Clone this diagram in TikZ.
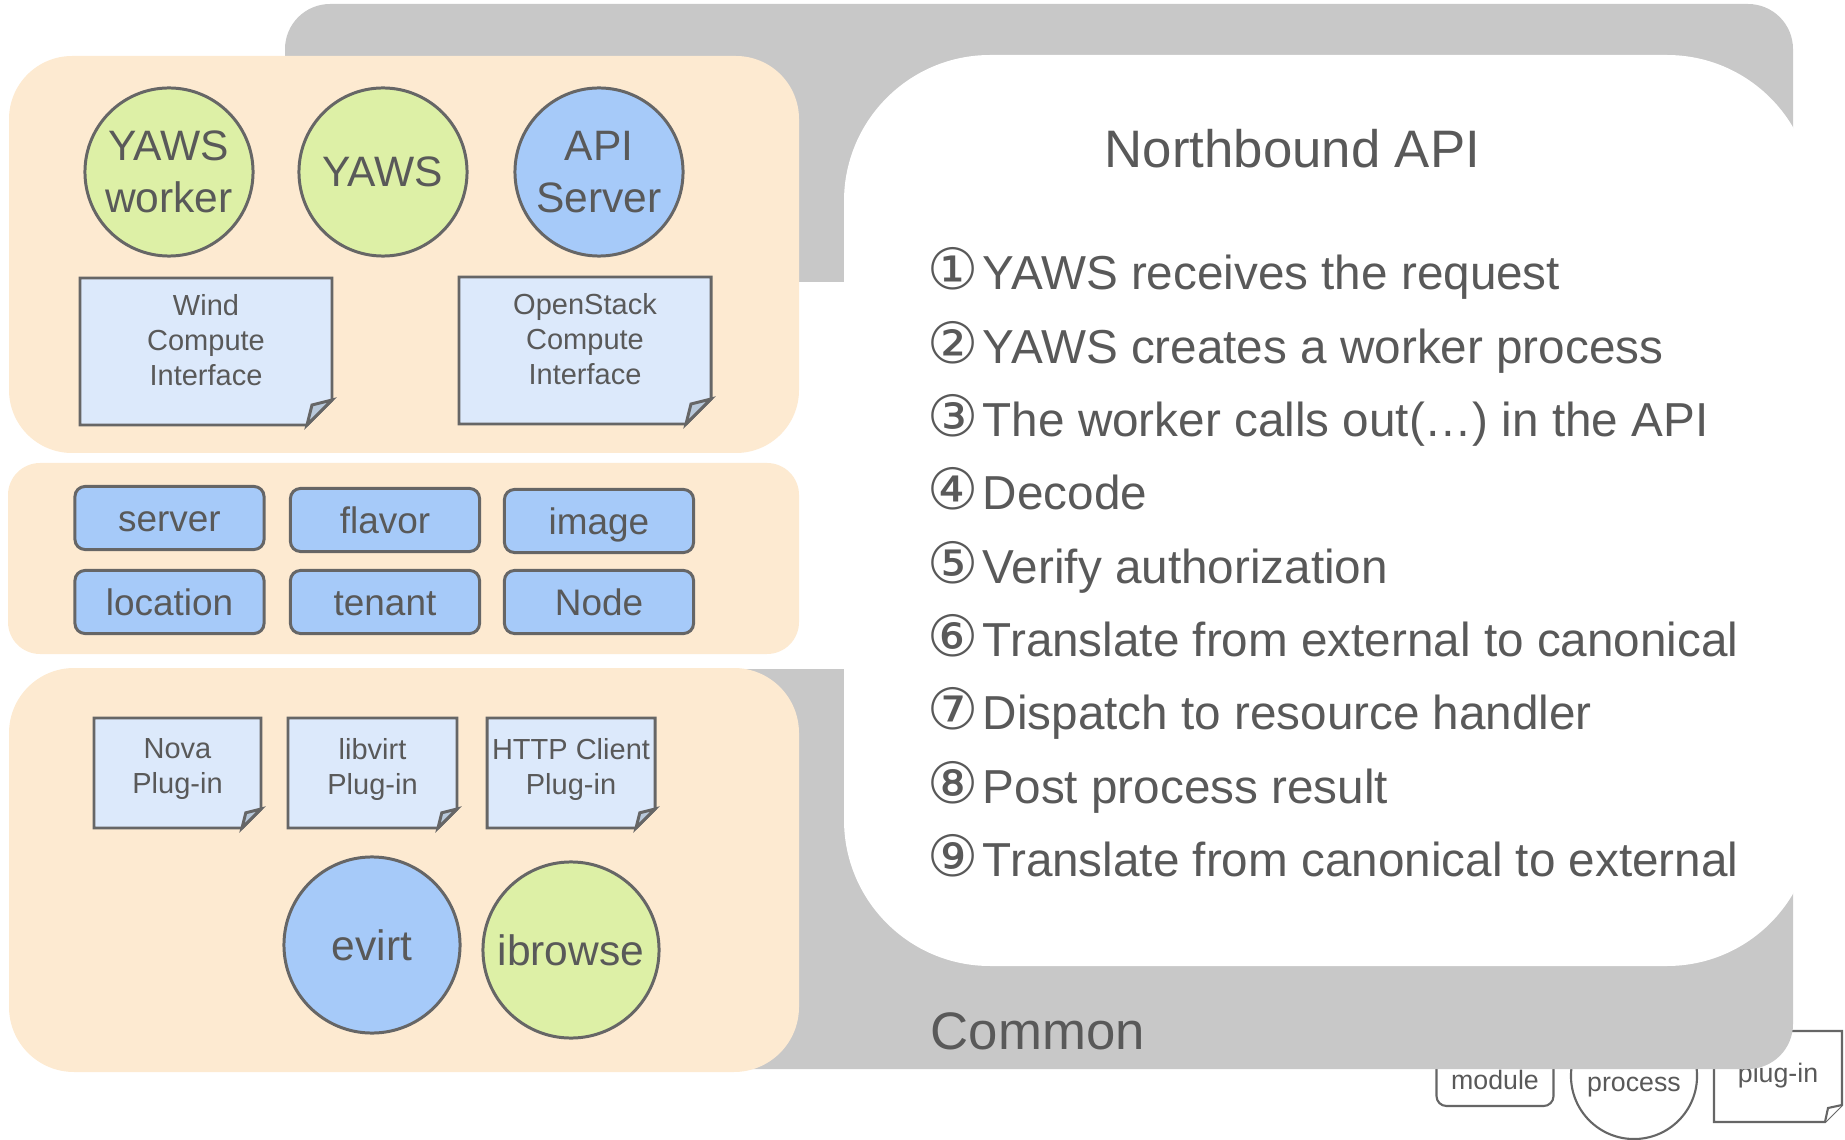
\documentclass[tikz,border=0pt]{standalone}
\usepackage{fontspec}
\setmainfont{Liberation Sans}
\newfontfamily\circfont{DejaVu Sans}
\usepackage{tikz}
\usetikzlibrary{positioning, calc}

\definecolor{comun}{HTML}{C8C8C8}
\definecolor{naranja}{HTML}{FDEAD1}
\definecolor{verde}{HTML}{DDF0A6}
\definecolor{azul}{HTML}{A6CAF9}
\definecolor{azulclaro}{HTML}{DCE9FB}
\definecolor{pliegue}{HTML}{B9C9DB}
\definecolor{borde}{HTML}{666666}
\definecolor{texto}{HTML}{595959}

\tikzset{
	proc/.style={circle, draw=borde, line width=0.85pt, minimum size=1.68cm, inner sep=0pt, align=center, text=texto, font=\fontsize{12.1}{14.6}\selectfont},
	modulo/.style={draw=borde, fill=azul, line width=0.85pt, rounded corners=0.1cm, minimum width=1.89cm, minimum height=0.63cm, inner sep=0pt, text=texto, text height=7.4pt, text depth=0pt, font=\fontsize{10.5}{12.6}\selectfont},
	doclinea/.style={draw=borde, line width=0.85pt},
	doctexto/.style={anchor=north, align=center, inner sep=0pt, text=texto, font=\fontsize{8.25}{9.9}\selectfont},
	titulo/.style={anchor=base west, inner sep=0pt, text=texto, font=\fontsize{15}{18}\selectfont},
	lista/.style={anchor=base west, inner sep=0pt, text=texto, font=\fontsize{13.55}{16}\selectfont},
	leyenda/.style={draw=borde, fill=white, line width=0.6pt, inner sep=0pt, text=texto, text height=1.0em, text depth=0.12em, font=\fontsize{7.6}{9}\selectfont}
}

% hoja con esquina doblada: nombre, esquina nw, esquina se, pliegue, bajada del texto, texto
\newcommand{\hoja}[6]{%
	\coordinate (#1-nw) at (#2);
	\coordinate (#1-se) at (#3);
	\coordinate (#1-ne) at (#1-nw -| #1-se);
	\coordinate (#1-sw) at (#1-nw |- #1-se);
	\draw[doclinea, fill=azulclaro] (#1-nw) -- (#1-ne) -- ($(#1-se)+(0,-#4)$) -- ($(#1-se)+(-#4,0)$) -- (#1-sw) -- cycle;
	\draw[doclinea, fill=pliegue] ($(#1-se)+(0,-#4)$) -- ($(#1-se)+(-0.8*#4,-0.8*#4)$) -- ($(#1-se)+(-#4,0)$) -- cycle;
	\node[doctexto] (#1) at ($(#1-nw)!0.5!(#1-ne)+(0,#5)$) {#6};
}

\begin{document}
\begin{tikzpicture}[x=0.01cm, y=-0.01cm]
	\useasboundingbox (0,0) rectangle (1845,1140);
	% Leyenda
	\node[leyenda, rounded corners=0.1cm, minimum width=1.17cm, minimum height=0.64cm] (leg-mod) at (1495,1074) {module};
	\node[leyenda, circle, minimum size=1.26cm] (leg-proc) at (1634,1076) {process};
	\draw[draw=borde, fill=white, line width=0.6pt] (1714,1031) -- (1842,1031) -- (1842,1105) -- (1825,1122) -- (1714,1122) -- cycle;
	\draw[draw=borde, fill=white, line width=0.6pt] (1842,1105) -- (1828,1108) -- (1825,1122);
	\node[leyenda, draw=none, fill=none, text height=, text depth=, anchor=base] (leg-plug) at (1778,1082) {plug-in};
	% Capa comun y API norte
	\fill[comun, rounded corners=0.45cm] (285,4) rectangle (1793,1069);
	\fill[white] (280,282) rectangle (844,669);
	\fill[white, rounded corners=1.46cm] (844,55) rectangle (1813,966);
	% Paneles
	\fill[naranja, rounded corners=0.63cm] (9,56) rectangle (799,453);
	\fill[naranja, rounded corners=0.32cm] (8,463) rectangle (799,654);
	\fill[naranja, rounded corners=0.65cm] (9,668) rectangle (799,1072);
	% Procesos de arriba
	\node[proc, fill=verde] (yaws-worker) at (169,172) {YAWS\\worker};
	\node[proc, fill=verde] (yaws) at (383,172) {YAWS};
	\node[proc, fill=azul] (api-server) at (599,172) {API\\Server};
	\hoja{wind}{80,278}{332,425}{25}{16}{Wind\\Compute\\Interface}
	\hoja{openstack}{459,277}{711,424}{25}{16}{OpenStack\\Compute\\Interface}
	% Recursos
	\node[modulo] (server) at (169.5,518) {server};
	\node[modulo] (flavor) at (385,520) {flavor};
	\node[modulo] (image) at (599,521) {image};
	\node[modulo] (location) at (169.5,602) {location};
	\node[modulo] (tenant) at (385,602) {tenant};
	\node[modulo] (node) at (599,602) {Node};
	% Plug-ins
	\hoja{nova}{94,718}{261,828}{19}{20}{Nova\\Plug-in}
	\hoja{libvirt}{288,718}{457,828}{19}{20}{libvirt\\Plug-in}
	\hoja{http}{487,718}{655,828}{19}{20}{HTTP Client\\Plug-in}
	\node[proc, fill=azul, minimum size=1.76cm] (evirt) at (372,945) {evirt};
	\node[proc, fill=verde, minimum size=1.76cm] (ibrowse) at (571,950) {ibrowse};
	% Textos
	\node[titulo] (northbound) at (1104,168) {Northbound API};
	\node[titulo] (common) at (930,1049) {Common};
	\foreach \paso [count=\i] in {YAWS receives the request, YAWS creates a worker process, The worker calls out(…) in the API, Decode, Verify authorization, Translate from external to canonical, Dispatch to resource handler, Post process result, Translate from canonical to external}
		\node[lista] (paso\i) at (927,{290+73.3*(\i-1)}) {{\circfont\fontsize{16.2}{18}\selectfont\char\numexpr"245F+\i\relax}\hspace{0.04cm}\paso};
\end{tikzpicture}
\end{document}
